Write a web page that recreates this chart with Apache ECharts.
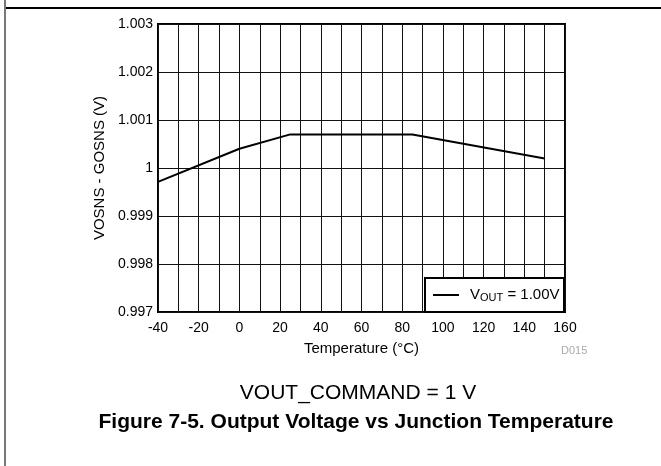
<!DOCTYPE html>
<html><head><meta charset="utf-8">
<script src="https://cdn.jsdelivr.net/npm/echarts@6/dist/echarts.min.js"></script>
<style>html,body{margin:0;padding:0;background:#fff}#c{width:661px;height:466px}</style>
</head><body><div id="c"></div>
<script>
const temps = [-40, 0, 25, 85, 150];
const vout = [0.99971, 1.0004, 1.0007, 1.0007, 1.0002];
const xTicks = [-40, -20, 0, 20, 40, 60, 80, 100, 120, 140, 160];
const yTicks = [0.997, 0.998, 0.999, 1, 1.001, 1.002, 1.003];
const seriesName = 'VOUT = 1.00V';

const F = '"Liberation Sans", Arial, sans-serif';
const chart = echarts.init(document.getElementById('c'), null, {renderer: 'canvas'});
chart.setOption({
  animation: false,
  backgroundColor: '#fff',
  grid: {left: 158, right: 96, top: 24, bottom: 154, show: true, borderColor: '#000', borderWidth: 2, backgroundColor: 'transparent'},
  xAxis: {
    type: 'value', min: xTicks[0], max: xTicks[xTicks.length - 1], interval: 20,
    name: 'Temperature (°C)', nameLocation: 'middle', nameGap: 29,
    nameTextStyle: {fontFamily: F, fontSize: 15, color: '#000'},
    axisLine: {show: false}, axisTick: {show: false},
    axisLabel: {fontFamily: F, fontSize: 14, color: '#000', margin: 9},
    splitLine: {show: true, lineStyle: {color: '#111', width: 1}},
    minorTick: {show: false, splitNumber: 2},
    minorSplitLine: {show: true, lineStyle: {color: '#111', width: 1}}
  },
  yAxis: {
    type: 'value', min: yTicks[0], max: yTicks[yTicks.length - 1], interval: 0.001,
    name: 'VOSNS - GOSNS (V)', nameLocation: 'middle', nameGap: 42,
    nameTextStyle: {fontFamily: F, fontSize: 15, color: '#000'},
    axisLine: {show: false}, axisTick: {show: false},
    axisLabel: {fontFamily: F, fontSize: 14, color: '#000', margin: 5,
      formatter: v => { const t = yTicks.find(k => Math.abs(k - v) < 1e-9); return t === undefined ? '' : String(t); }},
    splitLine: {show: true, lineStyle: {color: '#111', width: 1}}
  },
  legend: {
    show: true, left: 433, top: 287, padding: 0, z: 10,
    icon: 'rect', itemWidth: 26, itemHeight: 2, itemGap: 0,
    formatter: () => '{g|}{v|V}{s|OUT}{v| = 1.00V}',
    textStyle: {fontFamily: F, color: '#000', lineHeight: 16, rich: {
      g: {width: 6},
      v: {fontFamily: F, fontSize: 15, color: '#000', lineHeight: 16},
      s: {fontFamily: F, fontSize: 11, color: '#000', lineHeight: 16, verticalAlign: 'bottom', padding: [3, 0, 0, 0]}
    }},
    data: [seriesName]
  },
  series: [{
    name: seriesName, type: 'line', symbol: 'none',
    lineStyle: {color: '#000', width: 2},
    itemStyle: {color: '#000'},
    data: temps.map((t, i) => [t, vout[i]])
  }],
  graphic: [
    {type: 'rect', z: 5, shape: {x: 425, y: 278, width: 139, height: 34}, style: {fill: '#fff', stroke: '#000', lineWidth: 2}},
    {type: 'line', shape: {x1: 5, y1: 8, x2: 661, y2: 8}, style: {stroke: '#000', lineWidth: 2}},
    {type: 'line', shape: {x1: 5, y1: 0, x2: 5, y2: 466}, style: {stroke: '#777', lineWidth: 2}},
    {type: 'text', x: 561, y: 351, style: {text: 'D015', fontFamily: F, fontSize: 11, fill: '#aaa', verticalAlign: 'middle'}},
    {type: 'text', x: 358, y: 393, style: {text: 'VOUT_COMMAND = 1 V', fontFamily: F, fontSize: 21, fill: '#000', align: 'center', verticalAlign: 'middle'}},
    {type: 'text', x: 356, y: 422, style: {text: 'Figure 7-5. Output Voltage vs Junction Temperature', fontFamily: F, fontSize: 21, fontWeight: 'bold', fill: '#000', align: 'center', verticalAlign: 'middle'}}
  ]
});
</script></body></html>
